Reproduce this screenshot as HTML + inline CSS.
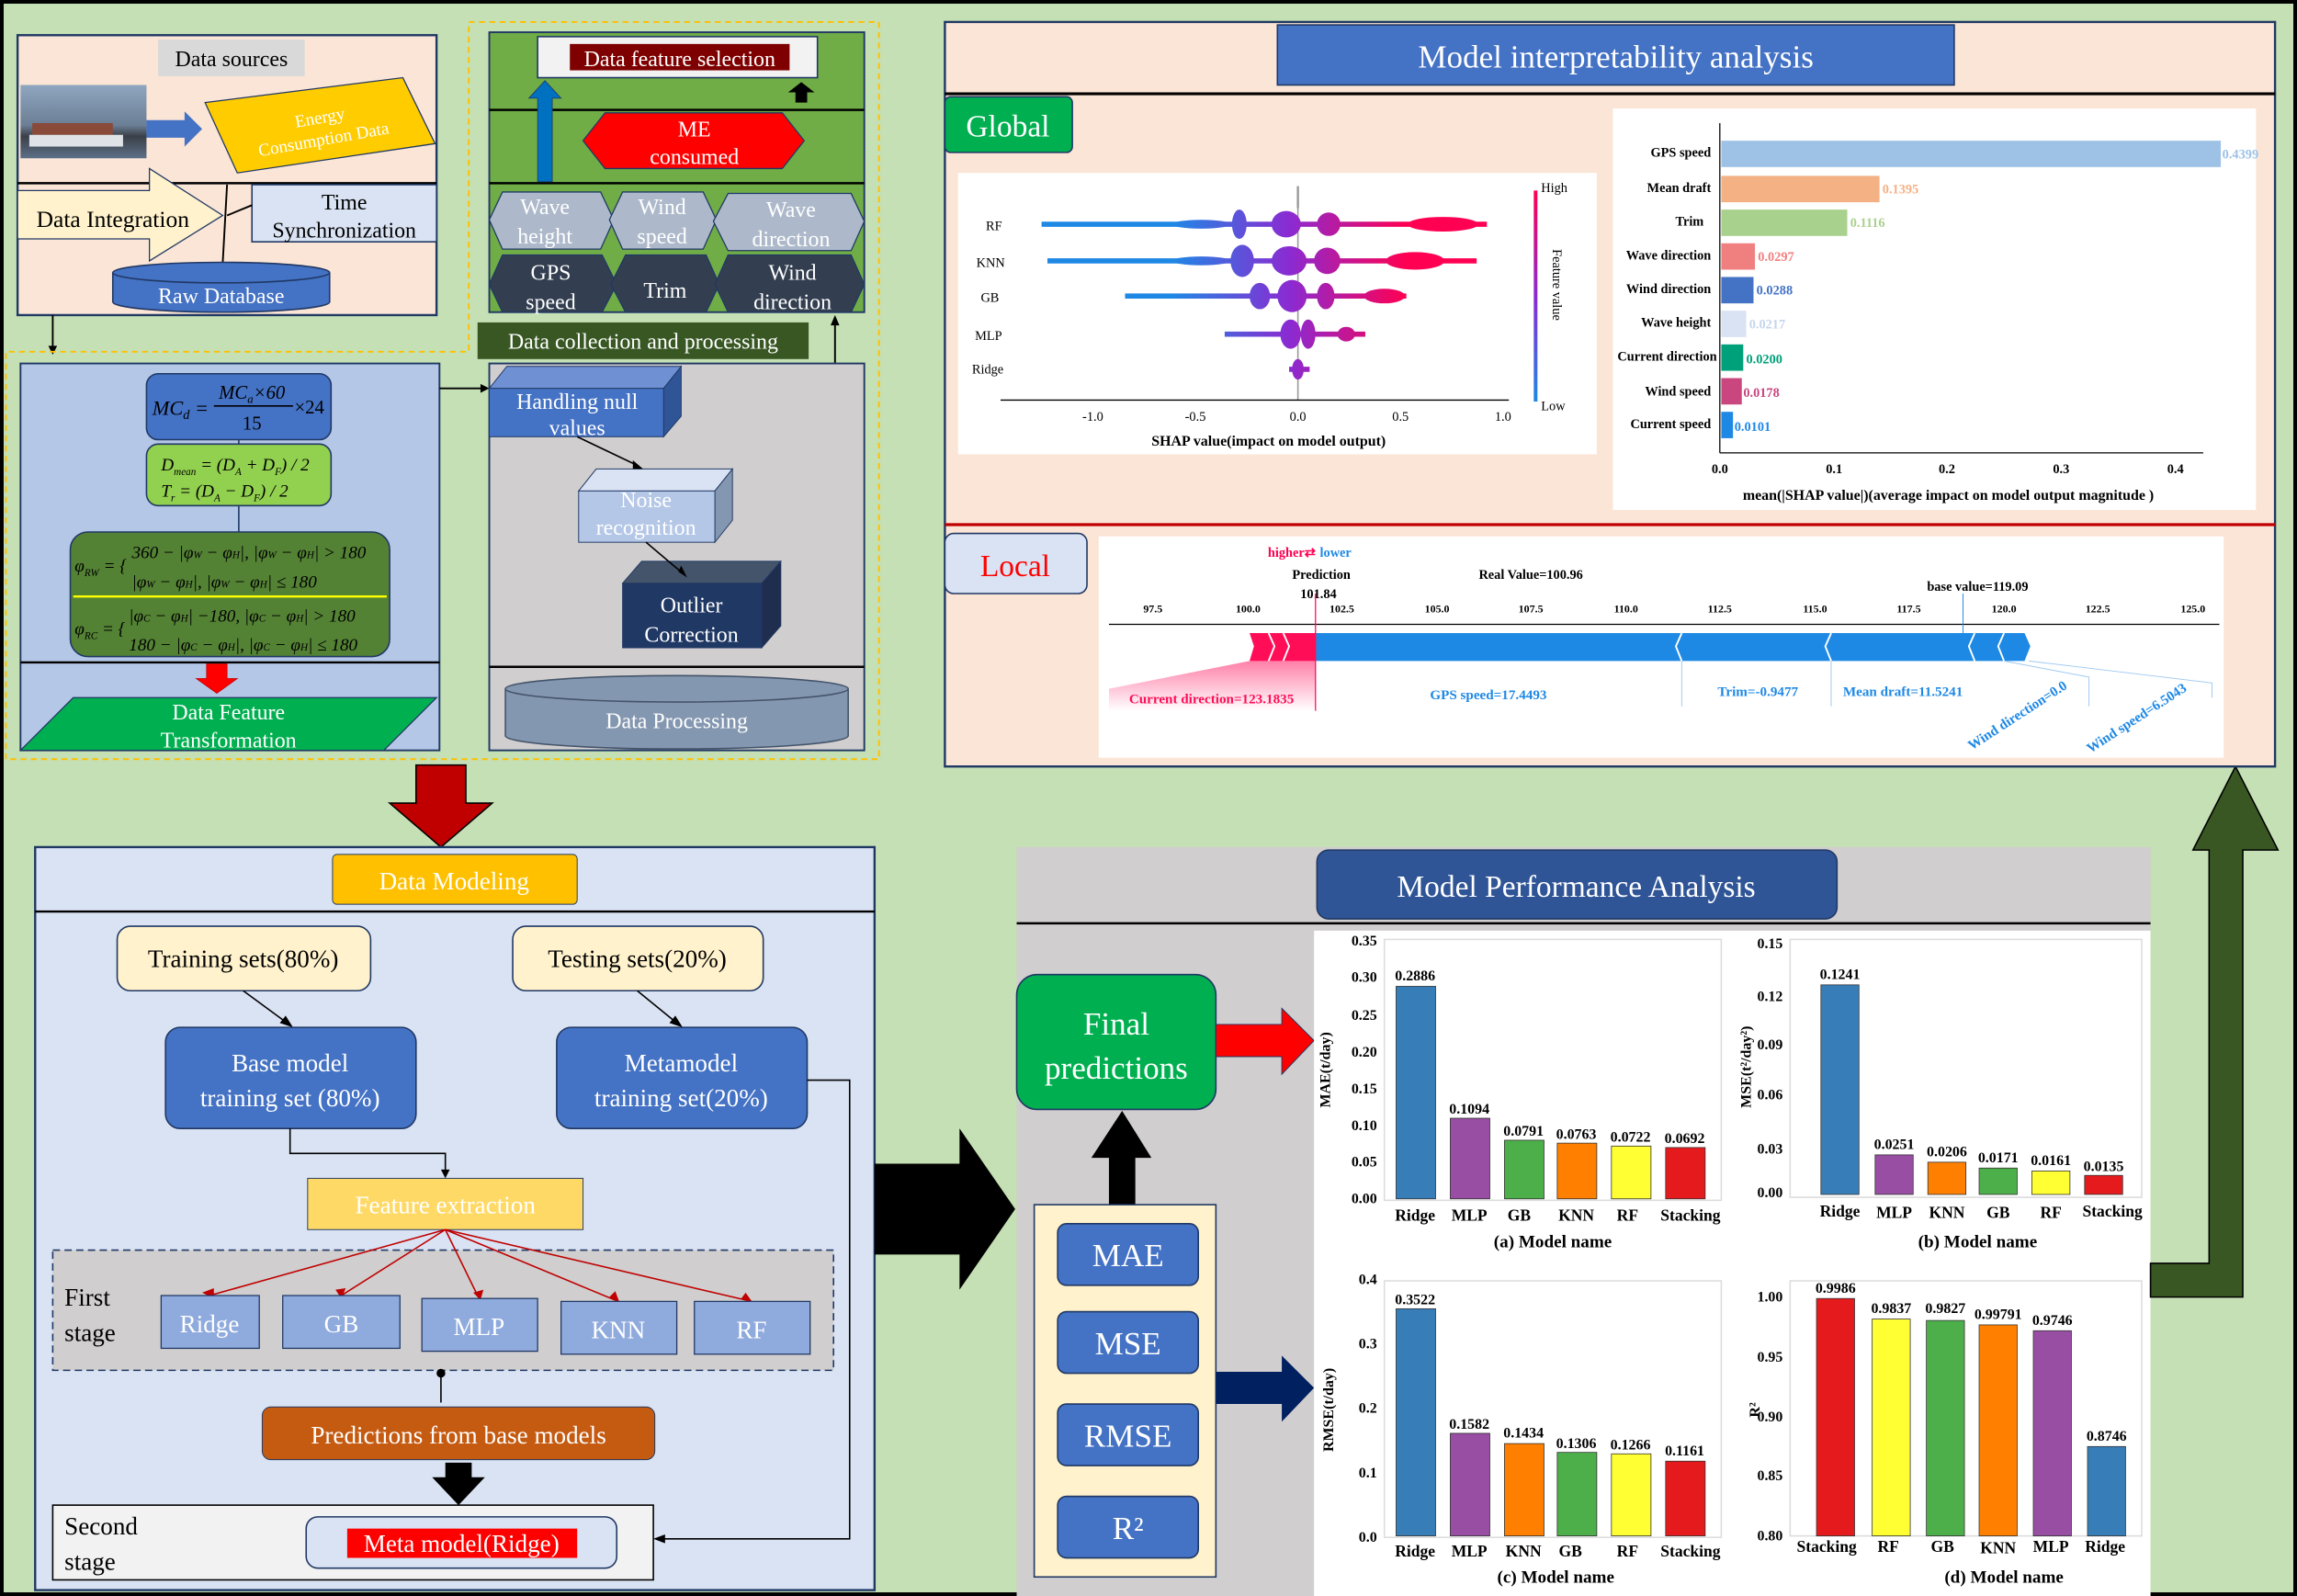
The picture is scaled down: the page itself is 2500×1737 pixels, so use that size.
<!DOCTYPE html>
<html><head><meta charset="utf-8"><style>
html,body{margin:0;padding:0;background:#c5e0b4;}
svg{display:block;}
text{font-family:"Liberation Serif",serif;}
</style></head><body>
<svg width="2500" height="1737" viewBox="0 0 1568 1089" preserveAspectRatio="none" xmlns="http://www.w3.org/2000/svg">
<defs>
<linearGradient id="sg" gradientUnits="userSpaceOnUse" x1="800" y1="0" x2="960" y2="0">
<stop offset="0" stop-color="#1e88e5"/><stop offset="0.5" stop-color="#8a2bd2"/><stop offset="1" stop-color="#ff0052"/></linearGradient>
<linearGradient id="cb" x1="0" y1="0" x2="0" y2="1"><stop offset="0" stop-color="#ff0052"/><stop offset="0.5" stop-color="#8a2bd2"/><stop offset="1" stop-color="#1e88e5"/></linearGradient>
<linearGradient id="ship" x1="0" y1="0" x2="0" y2="1"><stop offset="0" stop-color="#8fa6c0"/><stop offset="0.55" stop-color="#6b7f95"/><stop offset="0.7" stop-color="#3a3f48"/><stop offset="1" stop-color="#5d7088"/></linearGradient>
<linearGradient id="pk" x1="0" y1="0" x2="0" y2="1"><stop offset="0" stop-color="#ff0052" stop-opacity="0.5"/><stop offset="1" stop-color="#ff0052" stop-opacity="0"/></linearGradient>
</defs>
<rect x="0" y="0" width="1568" height="1089" fill="#c5e0b4"/>
<rect x="1" y="1" width="1566" height="1087" fill="none" stroke="#000" stroke-width="3"/>

<!-- top-left panel -->
<rect x="12" y="24" width="286" height="191" fill="#fbe5d6" stroke="#203864" stroke-width="1.5"/>
<line x1="12" y1="125" x2="298" y2="125" stroke="#000" stroke-width="1.5"/>
<rect x="108" y="27" width="100" height="25" fill="#d9d9d9"/>
<text x="158" y="45" font-size="15" text-anchor="middle">Data sources</text>
<rect x="14" y="58" width="86" height="50" fill="url(#ship)"/>
<rect x="22" y="84" width="55" height="8" fill="#8a4a3a"/>
<rect x="20" y="92" width="64" height="8" fill="#dfe3e8"/>
<polygon points="100,82 126,82 126,76 138,88 126,100 126,94 100,94" fill="#4472c4"/>
<polygon points="140,70 275,53 297,98 162,118" fill="#ffcc00" stroke="#203864" stroke-width="0.8"/>
<text transform="translate(220,90) rotate(-10)" font-size="12" fill="#fff" text-anchor="middle"><tspan x="0" y="-6">Energy</tspan><tspan x="0" y="9">Consumption Data</tspan></text>
<polygon points="12,130 102,130 102,115 152,147 102,178 102,163 12,163" fill="#fff2cc" stroke="#203864" stroke-width="0.8"/>
<text x="77" y="155" font-size="16" text-anchor="middle">Data Integration</text>
<rect x="172" y="126" width="126" height="39" fill="#dae3f3" stroke="#203864" stroke-width="1"/>
<text x="235" y="143" font-size="15" text-anchor="middle">Time</text>
<text x="235" y="162" font-size="15" text-anchor="middle">Synchronization</text>
<line x1="155" y1="126" x2="152" y2="180" stroke="#000" stroke-width="1.2"/>
<line x1="172" y1="140" x2="155" y2="147" stroke="#000" stroke-width="1.2"/>
<path d="M77,186 L77,206 A74,7 0 0 0 225,206 L225,186" fill="#4472c4" stroke="#203864"/>
<ellipse cx="151" cy="186" rx="74" ry="7" fill="#4472c4" stroke="#203864"/>
<text x="151" y="207" font-size="15" fill="#fff" text-anchor="middle">Raw Database</text>
<line x1="36" y1="215" x2="36" y2="238" stroke="#000" stroke-width="1.2"/>
<polygon points="33,236 39,236 36,242" fill="#000"/>

<!-- dashed orange -->
<path d="M320,15 L600,15 L600,518 L4,518 L4,240 L320,240 Z" fill="none" stroke="#ffc000" stroke-width="1.2" stroke-dasharray="4,3"/>

<!-- left mid panel -->
<rect x="14" y="248" width="286" height="264" fill="#b4c7e7" stroke="#203864" stroke-width="1.2"/>
<line x1="14" y1="452" x2="300" y2="452" stroke="#000" stroke-width="1.5"/>
<line x1="163" y1="300" x2="163" y2="363" stroke="#203864"/>
<rect x="100" y="255" width="126" height="45" rx="8" fill="#4472c4" stroke="#203864"/>
<text x="104" y="283" font-size="14" font-style="italic">MC<tspan font-size="9" dy="3">d</tspan><tspan dy="-3"> =</tspan></text>
<text x="172" y="272" font-size="13" text-anchor="middle" font-style="italic">MC<tspan font-size="8" dy="3">a</tspan><tspan dy="-3">×60</tspan></text>
<line x1="146" y1="277" x2="200" y2="277" stroke="#000"/>
<text x="172" y="293" font-size="13" text-anchor="middle">15</text>
<text x="201" y="282" font-size="13">×24</text>
<rect x="100" y="303" width="126" height="42" rx="8" fill="#92d050" stroke="#203864"/>
<text x="110" y="321" font-size="12" font-style="italic">D<tspan font-size="7" dy="3">mean</tspan><tspan dy="-3"> = (D</tspan><tspan font-size="7" dy="3">A</tspan><tspan dy="-3"> + D</tspan><tspan font-size="7" dy="3">F</tspan><tspan dy="-3">) / 2</tspan></text>
<text x="110" y="339" font-size="12" font-style="italic">T<tspan font-size="7" dy="3">r</tspan><tspan dy="-3"> = (D</tspan><tspan font-size="7" dy="3">A</tspan><tspan dy="-3"> − D</tspan><tspan font-size="7" dy="3">F</tspan><tspan dy="-3">) / 2</tspan></text>
<rect x="48" y="363" width="218" height="85" rx="12" fill="#548235" stroke="#203864"/>
<line x1="50" y1="407" x2="264" y2="407" stroke="#ffff00" stroke-width="1.5"/>
<text x="51" y="390" font-size="12" font-style="italic">φ<tspan font-size="7" dy="3">RW</tspan><tspan dy="-3"> = {</tspan></text>
<text x="90" y="381" font-size="12" font-style="italic">360 − |φ<tspan font-size="7">W</tspan> − φ<tspan font-size="7">H</tspan>|, |φ<tspan font-size="7">W</tspan> − φ<tspan font-size="7">H</tspan>| &gt; 180</text>
<text x="90" y="401" font-size="12" font-style="italic">|φ<tspan font-size="7">W</tspan> − φ<tspan font-size="7">H</tspan>|,        |φ<tspan font-size="7">W</tspan> − φ<tspan font-size="7">H</tspan>| ≤ 180</text>
<text x="51" y="433" font-size="12" font-style="italic">φ<tspan font-size="7" dy="3">RC</tspan><tspan dy="-3"> = {</tspan></text>
<text x="88" y="424" font-size="12" font-style="italic">|φ<tspan font-size="7">C</tspan> − φ<tspan font-size="7">H</tspan>| −180, |φ<tspan font-size="7">C</tspan> − φ<tspan font-size="7">H</tspan>| &gt; 180</text>
<text x="88" y="444" font-size="12" font-style="italic">180 − |φ<tspan font-size="7">C</tspan> − φ<tspan font-size="7">H</tspan>|, |φ<tspan font-size="7">C</tspan> − φ<tspan font-size="7">H</tspan>| ≤ 180</text>
<polygon points="141,453 155,453 155,463 162,463 148,473 134,463 141,463" fill="#ff0000" stroke="#c00000" stroke-width="0.5"/>
<polygon points="50,476 298,476 262,512 14,512" fill="#00b050" stroke="#203864" stroke-width="0.8"/>
<text x="156" y="491" font-size="15" fill="#fff" text-anchor="middle">Data Feature</text>
<text x="156" y="510" font-size="15" fill="#fff" text-anchor="middle">Transformation</text>
<line x1="300" y1="265" x2="330" y2="265" stroke="#000" stroke-width="1.2"/>
<polygon points="328,262 334,265 328,268" fill="#000"/>

<!-- right-top green -->
<rect x="334" y="22" width="256" height="191" fill="#70ad47" stroke="#203864" stroke-width="1.2"/>
<line x1="334" y1="75" x2="590" y2="75" stroke="#000" stroke-width="1.5"/>
<line x1="334" y1="125" x2="590" y2="125" stroke="#000" stroke-width="1.5"/>
<rect x="367" y="25" width="191" height="28" fill="#f2f2f2" stroke="#203864"/>
<rect x="389" y="30" width="150" height="18" fill="#7f0000"/>
<text x="464" y="45" font-size="15" fill="#fff" text-anchor="middle">Data feature selection</text>
<polygon points="367,124 377,124 377,67 383,67 372,55 361,67 367,67" fill="#0070c0" stroke="#203864" stroke-width="0.5"/>
<polygon points="543,70 551,70 551,63 556,63 547,56 538,63 543,63" fill="#000"/>
<polygon points="398,96 413,77 534,77 549,96 534,115 413,115" fill="#ff0000" stroke="#203864" stroke-width="0.8"/>
<text x="474" y="93" font-size="15" fill="#fff" text-anchor="middle">ME</text>
<text x="474" y="112" font-size="15" fill="#fff" text-anchor="middle">consumed</text>
<g stroke="#203864" stroke-width="0.8">
<polygon points="334,150 343,131 410,131 419,150 410,170 343,170" fill="#adb9ca"/>
<polygon points="416,150 425,131 480,131 489,150 480,170 425,170" fill="#adb9ca"/>
<polygon points="487,151 497,132 581,132 590,151 581,171 497,171" fill="#adb9ca"/>
<polygon points="334,194 343,174 411,174 421,194 411,213 343,213" fill="#333f50"/>
<polygon points="417,194 427,174 482,174 491,194 482,213 427,213" fill="#333f50"/>
<polygon points="488,194 497,174 581,174 590,194 581,213 497,213" fill="#333f50"/>
</g>
<g font-size="15" fill="#fff" text-anchor="middle">
<text x="372" y="146">Wave</text><text x="372" y="166">height</text>
<text x="452" y="146">Wind</text><text x="452" y="166">speed</text>
<text x="540" y="148">Wave</text><text x="540" y="168">direction</text>
<text x="376" y="191">GPS</text><text x="376" y="211">speed</text>
<text x="454" y="203">Trim</text>
<text x="541" y="191">Wind</text><text x="541" y="211">direction</text>
</g>
<rect x="326" y="220" width="226" height="25" fill="#385723"/>
<text x="439" y="238" font-size="15" fill="#fff" text-anchor="middle">Data collection and processing</text>
<line x1="570" y1="248" x2="570" y2="220" stroke="#000" stroke-width="1.2"/>
<polygon points="567,222 573,222 570,215" fill="#000"/>

<!-- gray processing panel -->
<rect x="334" y="248" width="256" height="264" fill="#d0cece" stroke="#203864" stroke-width="1.2"/>
<line x1="334" y1="455" x2="590" y2="455" stroke="#000" stroke-width="1.5"/>
<polygon points="334,265 346,250 465,250 453,265" fill="#6f91d4" stroke="#203864" stroke-width="0.6"/>
<polygon points="453,265 465,250 465,284 453,298" fill="#2f5597" stroke="#203864" stroke-width="0.6"/>
<rect x="334" y="265" width="119" height="33" fill="#4472c4" stroke="#203864" stroke-width="0.6"/>
<text x="394" y="279" font-size="15" fill="#fff" text-anchor="middle">Handling null</text>
<text x="394" y="297" font-size="15" fill="#fff" text-anchor="middle">values</text>
<polygon points="395,335 407,320 500,320 488,335" fill="#dae3f3" stroke="#203864" stroke-width="0.6"/>
<polygon points="488,335 500,320 500,355 488,370" fill="#8497b0" stroke="#203864" stroke-width="0.6"/>
<rect x="395" y="335" width="93" height="35" fill="#b4c7e7" stroke="#203864" stroke-width="0.6"/>
<text x="441" y="346" font-size="15" fill="#fff" text-anchor="middle">Noise</text>
<text x="441" y="365" font-size="15" fill="#fff" text-anchor="middle">recognition</text>
<polygon points="425,398 438,383 533,383 520,398" fill="#44546a" stroke="#203864" stroke-width="0.6"/>
<polygon points="520,398 533,383 533,427 520,442" fill="#1f2d4e" stroke="#203864" stroke-width="0.6"/>
<rect x="425" y="398" width="95" height="44" fill="#203864" stroke="#203864" stroke-width="0.6"/>
<text x="472" y="418" font-size="15" fill="#fff" text-anchor="middle">Outlier</text>
<text x="472" y="438" font-size="15" fill="#fff" text-anchor="middle">Correction</text>
<line x1="394" y1="298" x2="436" y2="318" stroke="#000" stroke-width="1"/>
<polygon points="432,314 439,320 432,320" fill="#000"/>
<line x1="441" y1="370" x2="467" y2="392" stroke="#000" stroke-width="1"/>
<polygon points="463,390 469,394 465,386" fill="#000"/>
<path d="M345,470 L345,502 A117,9 0 0 0 579,502 L579,470" fill="#8497b0" stroke="#44546a"/>
<ellipse cx="462" cy="470" rx="117" ry="9" fill="#8497b0" stroke="#44546a"/>
<text x="462" y="497" font-size="15" fill="#fff" text-anchor="middle">Data Processing</text>

<!-- red down arrow -->
<polygon points="284,522 318,522 318,548 336,548 301,578 266,548 284,548" fill="#c00000" stroke="#000" stroke-width="1"/>

<!-- Data Modeling panel -->
<rect x="24" y="578" width="573" height="507" fill="#dae3f3" stroke="#203864" stroke-width="1.5"/>
<line x1="24" y1="622" x2="597" y2="622" stroke="#000" stroke-width="1.5"/>
<rect x="227" y="583" width="167" height="34" rx="3" fill="#ffc000" stroke="#203864" stroke-width="0.6"/>
<text x="310" y="607" font-size="17" fill="#fff" text-anchor="middle">Data Modeling</text>
<rect x="80" y="632" width="173" height="44" rx="9" fill="#fff2cc" stroke="#203864"/>
<text x="166" y="660" font-size="17" text-anchor="middle">Training sets(80%)</text>
<rect x="350" y="632" width="171" height="44" rx="9" fill="#fff2cc" stroke="#203864"/>
<text x="435" y="660" font-size="17" text-anchor="middle">Testing sets(20%)</text>
<line x1="166" y1="676" x2="196" y2="698" stroke="#000"/><polygon points="191,698 200,701 195,693" fill="#000"/>
<line x1="435" y1="676" x2="462" y2="698" stroke="#000"/><polygon points="457,698 466,701 461,693" fill="#000"/>
<rect x="113" y="701" width="171" height="69" rx="10" fill="#4472c4" stroke="#203864"/>
<text x="198" y="731" font-size="17" fill="#fff" text-anchor="middle">Base model</text>
<text x="198" y="755" font-size="17" fill="#fff" text-anchor="middle">training set (80%)</text>
<rect x="380" y="701" width="171" height="69" rx="10" fill="#4472c4" stroke="#203864"/>
<text x="465" y="731" font-size="17" fill="#fff" text-anchor="middle">Metamodel</text>
<text x="465" y="755" font-size="17" fill="#fff" text-anchor="middle">training set(20%)</text>
<polyline points="198,770 198,787 304,787 304,800" fill="none" stroke="#000"/>
<polygon points="301,798 307,798 304,804" fill="#000"/>
<rect x="210" y="804" width="188" height="35" fill="#ffd966" stroke="#203864" stroke-width="0.6"/>
<text x="304" y="828" font-size="17" fill="#fff" text-anchor="middle">Feature extraction</text>
<rect x="36" y="853" width="533" height="82" fill="#d0cece" stroke="#203864" stroke-dasharray="5,3"/>
<text x="44" y="891" font-size="17">First</text>
<text x="44" y="915" font-size="17">stage</text>
<g stroke="#c00000" stroke-width="1">
<line x1="304" y1="839" x2="143" y2="884"/><line x1="304" y1="839" x2="233" y2="884"/><line x1="304" y1="839" x2="327" y2="886"/><line x1="304" y1="839" x2="422" y2="888"/><line x1="304" y1="839" x2="513" y2="888"/>
</g>
<g fill="#c00000">
<polygon points="138,882 146,886 146,879"/><polygon points="229,880 233,886 236,879"/><polygon points="323,882 328,887 330,880"/><polygon points="416,885 423,889 420,881"/><polygon points="506,886 514,889 509,882"/>
</g>
<g fill="#8faadc" stroke="#203864" stroke-width="0.8">
<rect x="110" y="884" width="67" height="36"/><rect x="193" y="884" width="80" height="36"/><rect x="288" y="886" width="79" height="36"/><rect x="383" y="888" width="79" height="36"/><rect x="474" y="888" width="79" height="36"/>
</g>
<g font-size="17" fill="#fff" text-anchor="middle">
<text x="143" y="909">Ridge</text><text x="233" y="909">GB</text><text x="327" y="911">MLP</text><text x="422" y="913">KNN</text><text x="513" y="913">RF</text>
</g>
<line x1="301" y1="935" x2="301" y2="957" stroke="#000"/><circle cx="301" cy="937" r="3" fill="#000"/>
<rect x="179" y="960" width="268" height="36" rx="6" fill="#c55a11" stroke="#203864" stroke-width="0.6"/>
<text x="313" y="985" font-size="17" fill="#fff" text-anchor="middle">Predictions from base models</text>
<polygon points="304,998 322,998 322,1008 331,1008 313,1027 295,1008 304,1008" fill="#000"/>
<rect x="36" y="1027" width="410" height="51" fill="#f2f2f2" stroke="#000"/>
<text x="44" y="1047" font-size="17">Second</text>
<text x="44" y="1071" font-size="17">stage</text>
<rect x="209" y="1035" width="212" height="35" rx="8" fill="#dae3f3" stroke="#203864"/>
<rect x="237" y="1043" width="157" height="20" fill="#ff0000"/>
<text x="315" y="1059" font-size="17" fill="#fff" text-anchor="middle">Meta model(Ridge)</text>
<polyline points="551,737 580,737 580,1050 452,1050" fill="none" stroke="#000"/>
<polygon points="454,1047 454,1053 446,1050" fill="#000"/>

<!-- big black right arrow -->
<polygon points="597,794 655,794 655,770 693,825 655,880 655,856 597,856" fill="#000"/>

<!-- Model Performance panel -->
<rect x="694" y="578" width="774" height="511" fill="#d0cece"/>
<line x1="694" y1="630" x2="1468" y2="630" stroke="#000" stroke-width="1.5"/>
<rect x="899" y="580" width="355" height="47" rx="8" fill="#2f5597" stroke="#203864"/>
<text x="1076" y="612" font-size="21" fill="#fff" text-anchor="middle">Model Performance Analysis</text>
<rect x="694" y="665" width="136" height="92" rx="14" fill="#00b050" stroke="#203864"/>
<text x="762" y="706" font-size="22" fill="#fff" text-anchor="middle">Final</text>
<text x="762" y="736" font-size="22" fill="#fff" text-anchor="middle">predictions</text>
<polygon points="830,699 875,699 875,688 897,710 875,733 875,721 830,721" fill="#ff0000" stroke="#203864" stroke-width="0.6"/>
<polygon points="757,822 775,822 775,790 786,790 766,758 745,790 757,790" fill="#000"/>
<rect x="706" y="822" width="124" height="254" fill="#fff2cc" stroke="#203864"/>
<g fill="#4472c4" stroke="#203864">
<rect x="722" y="835" width="96" height="42" rx="6"/><rect x="722" y="895" width="96" height="42" rx="6"/><rect x="722" y="958" width="96" height="42" rx="6"/><rect x="722" y="1021" width="96" height="42" rx="6"/>
</g>
<g font-size="22" fill="#fff" text-anchor="middle">
<text x="770" y="864">MAE</text><text x="770" y="924">MSE</text><text x="770" y="987">RMSE</text><text x="770" y="1050">R²</text>
</g>
<polygon points="830,936 875,936 875,925 897,947 875,970 875,958 830,958" fill="#002060"/>

<!-- charts -->
<rect x="897" y="635" width="571" height="454" fill="#fff"/>
<g font-family="Liberation Serif" font-weight="bold" font-size="11">
<!-- (a) -->
<rect x="945" y="641" width="230" height="178" fill="none" stroke="#ddd"/>
<g font-size="10" text-anchor="end"><text x="940" y="821">0.00</text><text x="940" y="796">0.05</text><text x="940" y="771">0.10</text><text x="940" y="746">0.15</text><text x="940" y="721">0.20</text><text x="940" y="696">0.25</text><text x="940" y="670">0.30</text><text x="940" y="645">0.35</text></g>
<text transform="translate(908,730) rotate(-90)" font-size="10" text-anchor="middle">MAE(t/day)</text>
<g stroke="#333" stroke-width="0.5">
<rect x="953" y="673" width="27" height="145" fill="#377eb8"/><rect x="990" y="763" width="27" height="55" fill="#984ea3"/><rect x="1027" y="778" width="27" height="40" fill="#4daf4a"/><rect x="1063" y="780" width="27" height="38" fill="#ff7f00"/><rect x="1100" y="782" width="27" height="36" fill="#ffff33"/><rect x="1137" y="783" width="27" height="35" fill="#e41a1c"/></g>
<g text-anchor="middle" font-size="10"><text x="966" y="669">0.2886</text><text x="1003" y="760">0.1094</text><text x="1040" y="775">0.0791</text><text x="1076" y="777">0.0763</text><text x="1113" y="779">0.0722</text><text x="1150" y="780">0.0692</text></g>
<g text-anchor="middle"><text x="966" y="833">Ridge</text><text x="1003" y="833">MLP</text><text x="1037" y="833">GB</text><text x="1076" y="833">KNN</text><text x="1111" y="833">RF</text><text x="1154" y="833">Stacking</text></g>
<text x="1060" y="851" text-anchor="middle" font-size="12">(a) Model name</text>
<!-- (b) -->
<rect x="1222" y="641" width="240" height="176" fill="none" stroke="#ddd"/>
<g font-size="10" text-anchor="end"><text x="1217" y="817">0.00</text><text x="1217" y="787">0.03</text><text x="1217" y="750">0.06</text><text x="1217" y="716">0.09</text><text x="1217" y="683">0.12</text><text x="1217" y="647">0.15</text></g>
<text transform="translate(1195,728) rotate(-90)" font-size="10" text-anchor="middle">MSE(t²/day²)</text>
<g stroke="#333" stroke-width="0.5">
<rect x="1243" y="672" width="26" height="143" fill="#377eb8"/><rect x="1280" y="788" width="26" height="27" fill="#984ea3"/><rect x="1316" y="793" width="26" height="22" fill="#ff7f00"/><rect x="1351" y="797" width="26" height="18" fill="#4daf4a"/><rect x="1387" y="799" width="26" height="16" fill="#ffff33"/><rect x="1423" y="802" width="26" height="13" fill="#e41a1c"/></g>
<g text-anchor="middle" font-size="10"><text x="1256" y="668">0.1241</text><text x="1293" y="784">0.0251</text><text x="1329" y="789">0.0206</text><text x="1364" y="793">0.0171</text><text x="1400" y="795">0.0161</text><text x="1436" y="799">0.0135</text></g>
<g text-anchor="middle"><text x="1256" y="830">Ridge</text><text x="1293" y="831">MLP</text><text x="1329" y="831">KNN</text><text x="1364" y="831">GB</text><text x="1400" y="831">RF</text><text x="1442" y="830">Stacking</text></g>
<text x="1350" y="851" text-anchor="middle" font-size="12">(b) Model name</text>
<!-- (c) -->
<rect x="945" y="874" width="230" height="175" fill="none" stroke="#ddd"/>
<g font-size="10" text-anchor="end"><text x="940" y="1052">0.0</text><text x="940" y="1008">0.1</text><text x="940" y="964">0.2</text><text x="940" y="920">0.3</text><text x="940" y="876">0.4</text></g>
<text transform="translate(910,962) rotate(-90)" font-size="10" text-anchor="middle">RMSE(t/day)</text>
<g stroke="#333" stroke-width="0.5">
<rect x="953" y="893" width="27" height="155" fill="#377eb8"/><rect x="990" y="978" width="27" height="70" fill="#984ea3"/><rect x="1027" y="985" width="27" height="63" fill="#ff7f00"/><rect x="1063" y="991" width="27" height="57" fill="#4daf4a"/><rect x="1100" y="992" width="27" height="56" fill="#ffff33"/><rect x="1137" y="997" width="27" height="51" fill="#e41a1c"/></g>
<g text-anchor="middle" font-size="10"><text x="966" y="890">0.3522</text><text x="1003" y="975">0.1582</text><text x="1040" y="981">0.1434</text><text x="1076" y="988">0.1306</text><text x="1113" y="989">0.1266</text><text x="1150" y="993">0.1161</text></g>
<g text-anchor="middle"><text x="966" y="1062">Ridge</text><text x="1003" y="1062">MLP</text><text x="1040" y="1062">KNN</text><text x="1072" y="1062">GB</text><text x="1111" y="1062">RF</text><text x="1154" y="1062">Stacking</text></g>
<text x="1062" y="1080" text-anchor="middle" font-size="12">(c) Model name</text>
<!-- (d) -->
<rect x="1222" y="874" width="240" height="174" fill="none" stroke="#ddd"/>
<g font-size="10" text-anchor="end"><text x="1217" y="1051">0.80</text><text x="1217" y="1010">0.85</text><text x="1217" y="970">0.90</text><text x="1217" y="929">0.95</text><text x="1217" y="888">1.00</text></g>
<text transform="translate(1201,962) rotate(-90)" font-size="10" text-anchor="middle">R²</text>
<g stroke="#333" stroke-width="0.5">
<rect x="1240" y="886" width="26" height="162" fill="#e41a1c"/><rect x="1278" y="900" width="26" height="148" fill="#ffff33"/><rect x="1315" y="901" width="26" height="147" fill="#4daf4a"/><rect x="1351" y="904" width="26" height="144" fill="#ff7f00"/><rect x="1388" y="908" width="26" height="140" fill="#984ea3"/><rect x="1425" y="987" width="26" height="61" fill="#377eb8"/></g>
<g text-anchor="middle" font-size="10"><text x="1253" y="882">0.9986</text><text x="1291" y="896">0.9837</text><text x="1328" y="896">0.9827</text><text x="1364" y="900">0.99791</text><text x="1401" y="904">0.9746</text><text x="1438" y="983">0.8746</text></g>
<g text-anchor="middle"><text x="1247" y="1059">Stacking</text><text x="1289" y="1059">RF</text><text x="1326" y="1059">GB</text><text x="1364" y="1060">KNN</text><text x="1400" y="1059">MLP</text><text x="1437" y="1059">Ridge</text></g>
<text x="1368" y="1080" text-anchor="middle" font-size="12">(d) Model name</text>
</g>

<!-- dark green arrow -->
<polygon points="1468,862 1508,862 1508,580 1497,580 1526,523 1555,580 1531,580 1531,885 1468,885" fill="#385723" stroke="#000" stroke-width="1"/>

<!-- top right panel -->
<rect x="645" y="15" width="908" height="508" fill="#fbe5d6" stroke="#203864" stroke-width="1.5"/>
<rect x="872" y="17" width="462" height="41" fill="#4472c4" stroke="#203864"/>
<text x="1103" y="46" font-size="22" fill="#fff" text-anchor="middle">Model interpretability analysis</text>
<line x1="645" y1="64" x2="1553" y2="64" stroke="#000" stroke-width="2"/>
<rect x="645" y="66" width="87" height="38" rx="4" fill="#00b050" stroke="#203864"/>
<text x="688" y="93" font-size="21" fill="#fff" text-anchor="middle">Global</text>
<line x1="645" y1="358" x2="1553" y2="358" stroke="#c00000" stroke-width="2"/>
<rect x="645" y="364" width="97" height="41" rx="6" fill="#dae3f3" stroke="#203864"/>
<text x="693" y="393" font-size="21" fill="#ff0000" text-anchor="middle">Local</text>

<!-- beeswarm -->
<rect x="654" y="118" width="436" height="192" fill="#fff"/>
<line x1="886" y1="127" x2="886" y2="142" stroke="#999" stroke-width="1.5"/>
<line x1="886" y1="142" x2="886" y2="273" stroke="#999" stroke-width="1"/>
<g font-size="9" text-anchor="end"><text x="684" y="157">RF</text><text x="686" y="182">KNN</text><text x="682" y="206">GB</text><text x="684" y="232">MLP</text><text x="685" y="255">Ridge</text></g>
<g stroke="url(#sg)" stroke-width="3.5" fill="none">
<line x1="711" y1="153" x2="1015" y2="153"/><line x1="715" y1="178" x2="1008" y2="178"/><line x1="768" y1="202" x2="960" y2="202"/><line x1="836" y1="228" x2="932" y2="228"/><line x1="880" y1="252" x2="894" y2="252"/>
</g>
<g fill="url(#sg)">
<ellipse cx="846" cy="153" rx="5" ry="10"/><ellipse cx="878" cy="153" rx="10" ry="9"/><ellipse cx="907" cy="153" rx="8" ry="8"/><ellipse cx="985" cy="153" rx="24" ry="5"/><ellipse cx="820" cy="153" rx="20" ry="3"/>
<ellipse cx="848" cy="178" rx="8" ry="11"/><ellipse cx="880" cy="178" rx="12" ry="10"/><ellipse cx="906" cy="178" rx="9" ry="9"/><ellipse cx="966" cy="178" rx="20" ry="6"/><ellipse cx="820" cy="178" rx="20" ry="3"/>
<ellipse cx="860" cy="202" rx="7" ry="9"/><ellipse cx="882" cy="202" rx="10" ry="11"/><ellipse cx="905" cy="202" rx="6" ry="9"/><ellipse cx="945" cy="202" rx="14" ry="5"/>
<ellipse cx="881" cy="228" rx="7" ry="10"/><ellipse cx="893" cy="228" rx="5" ry="10"/><ellipse cx="919" cy="228" rx="6" ry="5"/>
<ellipse cx="886" cy="252" rx="4" ry="7"/>
</g>
<line x1="683" y1="273" x2="1030" y2="273" stroke="#000" stroke-width="0.8"/>
<g font-size="9" text-anchor="middle"><text x="746" y="287">-1.0</text><text x="816" y="287">-0.5</text><text x="886" y="287">0.0</text><text x="956" y="287">0.5</text><text x="1026" y="287">1.0</text></g>
<text x="866" y="304" font-size="10" font-weight="bold" text-anchor="middle">SHAP value(impact on model output)</text>
<rect x="1047" y="130" width="2.5" height="144" fill="url(#cb)"/>
<text x="1052" y="131" font-size="9">High</text><text x="1052" y="280" font-size="9">Low</text>
<text transform="translate(1060,170) rotate(90)" font-size="9">Feature value</text>

<!-- SHAP bar -->
<rect x="1101" y="74" width="439" height="274" fill="#fff"/>
<line x1="1174" y1="84" x2="1174" y2="309" stroke="#000" stroke-width="0.8"/>
<line x1="1174" y1="309" x2="1504" y2="309" stroke="#000" stroke-width="0.8"/>
<g font-size="9" font-weight="bold" text-anchor="end"><text x="1168" y="107">GPS speed</text><text x="1168" y="131">Mean draft</text><text x="1163" y="154">Trim</text><text x="1168" y="177">Wave direction</text><text x="1168" y="200">Wind direction</text><text x="1168" y="223">Wave height</text><text x="1172" y="246">Current direction</text><text x="1168" y="270">Wind speed</text><text x="1168" y="292">Current speed</text></g>
<rect x="1175" y="96" width="341" height="18" fill="#9ec2e6"/><rect x="1175" y="120" width="108" height="18" fill="#f4b183"/><rect x="1175" y="143" width="86" height="18" fill="#a9d18e"/><rect x="1175" y="166" width="23" height="18" fill="#f08080"/><rect x="1175" y="189" width="22" height="18" fill="#4472c4"/><rect x="1175" y="212" width="17" height="18" fill="#dae3f3"/><rect x="1175" y="235" width="15" height="18" fill="#00a07a"/><rect x="1175" y="258" width="14" height="18" fill="#c9467f"/><rect x="1175" y="281" width="8" height="18" fill="#1e88e5"/>
<g font-size="9" font-weight="bold"><text x="1517" y="108" fill="#9ec2e6">0.4399</text><text x="1285" y="132" fill="#f4b183">0.1395</text><text x="1263" y="155" fill="#a9d18e">0.1116</text><text x="1200" y="178" fill="#f08080">0.0297</text><text x="1199" y="201" fill="#4472c4">0.0288</text><text x="1194" y="224" fill="#c5d5ee">0.0217</text><text x="1192" y="248" fill="#00a07a">0.0200</text><text x="1190" y="271" fill="#c9467f">0.0178</text><text x="1184" y="294" fill="#1e88e5">0.0101</text></g>
<g font-size="9" text-anchor="middle" font-weight="bold"><text x="1174" y="323">0.0</text><text x="1252" y="323">0.1</text><text x="1329" y="323">0.2</text><text x="1407" y="323">0.3</text><text x="1485" y="323">0.4</text></g>
<text x="1330" y="341" font-size="10" font-weight="bold" text-anchor="middle">mean(|SHAP value|)(average impact on model output magnitude )</text>

<!-- force plot -->
<rect x="750" y="366" width="768" height="151" fill="#fff"/>
<text x="898" y="380" font-size="9" font-weight="bold" text-anchor="end" fill="#ff0052">higher⇄</text>
<text x="901" y="380" font-size="9" font-weight="bold" fill="#1e88e5">lower</text>
<text x="902" y="395" font-size="9" font-weight="bold" text-anchor="middle">Prediction</text>
<text x="900" y="408" font-size="9" font-weight="bold" text-anchor="middle">101.84</text>
<text x="1045" y="395" font-size="9" font-weight="bold" text-anchor="middle">Real Value=100.96</text>
<text x="1350" y="403" font-size="9" font-weight="bold" text-anchor="middle">base value=119.09</text>
<g font-size="7.5" font-weight="bold" text-anchor="middle"><text x="787" y="418">97.5</text><text x="852" y="418">100.0</text><text x="916" y="418">102.5</text><text x="981" y="418">105.0</text><text x="1045" y="418">107.5</text><text x="1110" y="418">110.0</text><text x="1174" y="418">112.5</text><text x="1239" y="418">115.0</text><text x="1303" y="418">117.5</text><text x="1368" y="418">120.0</text><text x="1432" y="418">122.5</text><text x="1497" y="418">125.0</text></g>
<line x1="757" y1="426" x2="1515" y2="426" stroke="#000" stroke-width="0.8"/>
<line x1="1340" y1="405" x2="1340" y2="432" stroke="#1e88e5" stroke-width="0.6"/>
<polygon points="853,432 898,432 898,451 853,451 856,441" fill="#ff0d57"/>
<polygon points="898,432 1382,432 1386,441 1382,451 898,451" fill="#1e88e5"/>
<g stroke="#fff" stroke-width="1.2" fill="none"><polyline points="866,432 870,441 866,451"/><polyline points="876,432 880,441 876,451"/><polyline points="1148,432 1144,441 1148,451"/><polyline points="1250,432 1246,441 1250,451"/><polyline points="1348,432 1344,441 1348,451"/><polyline points="1368,432 1364,441 1368,451"/></g>
<line x1="898" y1="405" x2="898" y2="485" stroke="#ff0d57" stroke-width="0.8"/>
<polygon points="757,470 853,451 898,451 898,485 757,485" fill="url(#pk)"/>
<g stroke="#9ec9f0" stroke-width="0.6" fill="none"><line x1="1148" y1="451" x2="1148" y2="482"/><line x1="1250" y1="451" x2="1250" y2="482"/><polyline points="1368,451 1426,462 1426,482"/><polyline points="1385,451 1510,466 1510,476"/></g>
<text x="827" y="480" font-size="9.5" font-weight="bold" fill="#ff0d57" text-anchor="middle">Current direction=123.1835</text>
<text x="1016" y="477" font-size="9.5" font-weight="bold" fill="#1e88e5" text-anchor="middle">GPS speed=17.4493</text>
<text x="1200" y="475" font-size="9.5" font-weight="bold" fill="#1e88e5" text-anchor="middle">Trim=-0.9477</text>
<text x="1299" y="475" font-size="9.5" font-weight="bold" fill="#1e88e5" text-anchor="middle">Mean draft=11.5241</text>
<text transform="translate(1346,512) rotate(-33)" font-size="9.5" font-weight="bold" fill="#1e88e5">Wind direction=0.0</text>
<text transform="translate(1427,514) rotate(-33)" font-size="9.5" font-weight="bold" fill="#1e88e5">Wind speed=6.5043</text>
</svg>
</body></html>
